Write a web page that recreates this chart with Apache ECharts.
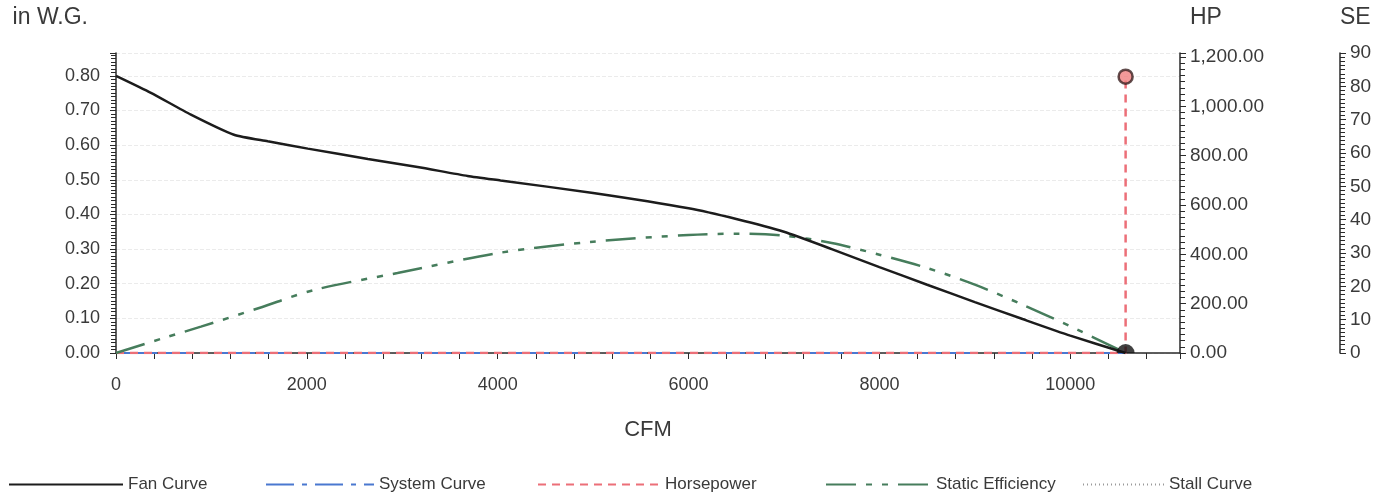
<!DOCTYPE html>
<html>
<head>
<meta charset="utf-8">
<script src="https://cdn.jsdelivr.net/npm/echarts@6/dist/echarts.min.js"></script>
<style>
html,body{margin:0;padding:0;background:#fff;}
#chart{width:1379px;height:499px;}
</style>
</head>
<body>
<div id="chart"></div>
<script>
// ---- data ----
const fanCurve = [
  [0, 0.80], [366, 0.751], [785, 0.688], [1236, 0.630], [1590, 0.611],
  [2010, 0.590], [2640, 0.560], [3160, 0.537], [3685, 0.511], [4030, 0.498],
  [5000, 0.462], [6000, 0.418], [6500, 0.387], [7000, 0.350], [7500, 0.300],
  [8000, 0.248], [8500, 0.197], [9000, 0.147], [9500, 0.098], [10000, 0.050],
  [10580, 0.0]
];
const systemCurve = [[0, 0], [10580, 0]];
const horsepower = [[0, 0], [10580, 0], [10580, 1120]];
const staticEfficiency = [
  [0, 0], [500, 4.5], [890, 7.9], [1500, 13.5], [2075, 18.9], [2950, 24.0],
  [4030, 30.1], [5000, 33.4], [6000, 35.4], [6500, 35.8], [7000, 35.2],
  [7500, 33.0], [8000, 29.5], [8500, 25.5], [9000, 20.5], [9500, 14.5],
  [10000, 8.0], [10580, 0]
];
const stallCurve = [];
const operatingPoint = [[10580, 0]];
const hpPoint = [[10580, 1120]];
const legendNames = ['Fan Curve', 'System Curve', 'Horsepower', 'Static Efficiency', 'Stall Curve'];

const font = 'Liberation Sans, Arial, sans-serif';
const txt = '#3a3a3a';
const axisCol = '#2a2a2a';

const chart = echarts.init(document.getElementById('chart'));

function legendAt(name, left, w) {
  return {
    data: [name], left: left, top: 476, itemWidth: w, itemHeight: 12,
    itemStyle: { opacity: 0 },
    textStyle: { fontFamily: font, fontSize: 17, color: txt }, itemGap: 0, padding: 0,
    selectedMode: false
  };
}

chart.setOption({
  backgroundColor: '#fff',
  animation: false,
  grid: { left: 116, right: 199, top: 53, bottom: 146, containLabel: false },
  legend: [
    legendAt(legendNames[0], 8, 114),
    legendAt(legendNames[1], 265, 108),
    legendAt(legendNames[2], 537, 122),
    legendAt(legendNames[3], 825, 105),
    legendAt(legendNames[4], 1082, 81)
  ],
  xAxis: {
    type: 'value', min: 0, max: 11150, interval: 2000,
    name: 'CFM', nameLocation: 'middle', nameGap: 66,
    nameTextStyle: { fontFamily: font, fontSize: 22, color: txt },
    axisLine: { show: true, lineStyle: { color: axisCol, width: 1.5 } },
    axisTick: { show: true, length: 6, lineStyle: { color: axisCol } },
    minorTick: { show: true, splitNumber: 5, length: 6, lineStyle: { color: axisCol } },
    axisLabel: { fontFamily: 'Liberation Sans Narrow, Liberation Sans, Arial, sans-serif', fontSize: 18, color: txt, margin: 23, showMaxLabel: false,
      formatter: v => String(v) },
    splitLine: { show: false }
  },
  yAxis: [
    {
      type: 'value', min: 0, max: 0.866, interval: 0.1, position: 'left',
      name: 'in W.G.', nameLocation: 'end', nameGap: 35,
      nameTextStyle: { fontFamily: font, fontSize: 23, color: txt, align: 'right', verticalAlign: 'middle', padding: [0, 28, 0, 0] },
      axisLine: { show: true, lineStyle: { color: axisCol, width: 1.5 } },
      axisTick: { show: true, length: 6, lineStyle: { color: axisCol } },
      minorTick: { show: true, splitNumber: 10, length: 5, lineStyle: { color: axisCol } },
      axisLabel: { fontFamily: font, fontSize: 18, color: txt, margin: 16, showMaxLabel: false,
        formatter: v => v.toFixed(2) },
      splitLine: { show: true, lineStyle: { color: '#ebebeb', type: 'dashed' } }
    },
    {
      type: 'value', min: 0, max: 1216, interval: 200, position: 'right', offset: 0,
      name: 'HP', nameLocation: 'end', nameGap: 35,
      nameTextStyle: { fontFamily: font, fontSize: 23, color: txt, align: 'left', verticalAlign: 'middle', padding: [0, 0, 0, 10] },
      axisLine: { show: true, lineStyle: { color: axisCol, width: 1.5 } },
      axisTick: { show: true, length: 6, lineStyle: { color: axisCol } },
      minorTick: { show: true, splitNumber: 8, length: 5, lineStyle: { color: axisCol } },
      axisLabel: { fontFamily: font, fontSize: 19, color: txt, margin: 10, showMaxLabel: false,
        formatter: v => v.toLocaleString('en-US', { minimumFractionDigits: 2, maximumFractionDigits: 2 }) },
      splitLine: { show: false }
    },
    {
      type: 'value', min: 0, max: 90, interval: 10, position: 'right', offset: 160,
      name: 'SE', nameLocation: 'end', nameGap: 35,
      nameTextStyle: { fontFamily: font, fontSize: 23, color: txt, align: 'left', verticalAlign: 'middle', padding: [0, 0, 0, 0] },
      axisLine: { show: true, lineStyle: { color: axisCol, width: 1.5 } },
      axisTick: { show: true, length: 6, lineStyle: { color: axisCol } },
      minorTick: { show: true, splitNumber: 8, length: 5, lineStyle: { color: axisCol } },
      axisLabel: { fontFamily: font, fontSize: 19, color: txt, margin: 10 },
      splitLine: { show: false }
    }
  ],
  series: [
    { name: 'Fan Curve', type: 'line', yAxisIndex: 0, data: fanCurve, smooth: 0.2, symbol: 'none',
      lineStyle: { color: '#1c1c1c', width: 2.5 }, itemStyle: { color: '#1c1c1c' }, z: 5 },
    { name: 'System Curve', type: 'line', yAxisIndex: 0, data: systemCurve, symbol: 'none',
      lineStyle: { color: '#4a78d0', width: 2, type: [28, 8, 5, 8] }, itemStyle: { color: '#4a78d0' }, z: 3 },
    { name: 'Horsepower', type: 'line', yAxisIndex: 1, data: horsepower, symbol: 'none',
      lineStyle: { color: '#ec6f78', width: 2.5, type: [8, 6] }, itemStyle: { color: '#ec6f78' }, z: 4 },
    { name: 'Static Efficiency', type: 'line', yAxisIndex: 2, data: staticEfficiency, smooth: 0.3, symbol: 'none',
      lineStyle: { color: '#467d5c', width: 2.5, type: [30, 10, 6, 10, 6, 10] }, itemStyle: { color: '#467d5c' }, z: 4 },
    { name: 'Stall Curve', type: 'line', yAxisIndex: 0, data: stallCurve, symbol: 'none',
      lineStyle: { color: '#9a9a9a', width: 2, type: [1, 3] }, itemStyle: { color: '#9a9a9a' } },
    { name: 'hpPoint', type: 'scatter', yAxisIndex: 1, data: hpPoint, symbol: 'circle', symbolSize: 14,
      itemStyle: { color: '#f07f7f', borderColor: '#3b2222', borderWidth: 2.5 }, z: 6 },
    { name: 'opPoint', type: 'scatter', yAxisIndex: 0, data: operatingPoint,
      symbol: 'path://M0,10 A10,10 0 0 1 20,10 Z', symbolSize: [18, 9], symbolOffset: [0, -4.5],
      itemStyle: { color: '#111' }, z: 7 }
  ]
});
</script>
</body>
</html>
